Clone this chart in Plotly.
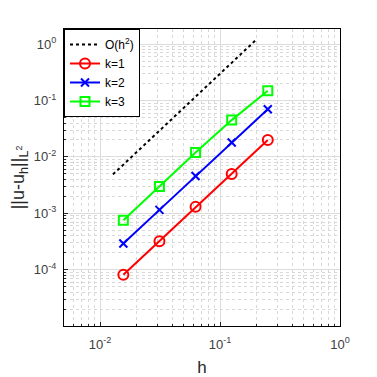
import plotly.graph_objects as go

h = [1/4, 1/8, 1/16, 1/32, 1/64]
err_k1 = [0.020, 0.0050, 0.00130, 0.00032, 0.000081]
err_k2 = [0.070, 0.018, 0.0046, 0.00115, 0.00029]
err_k3 = [0.150, 0.045, 0.0120, 0.0030, 0.00075]
ref_h = [0.0128, 0.2]
ref_err = [0.0049, 1.2]

x_ticks = [0.01, 0.1, 1]
x_labels = ["10<sup>-2</sup>", "10<sup>-1</sup>", "10<sup>0</sup>"]
y_ticks = [1e-4, 1e-3, 1e-2, 1e-1, 1]
y_labels = ["10<sup>-4</sup>", "10<sup>-3</sup>", "10<sup>-2</sup>", "10<sup>-1</sup>", "10<sup>0</sup>"]

# minor grid positions (2..9 within each decade)
x_minor = [m * 10.0 ** e for e in range(-3, 0) for m in range(2, 10)]
y_minor = [m * 10.0 ** e for e in range(-5, 1) for m in range(2, 10)]

fig = go.Figure()
fig.add_trace(go.Scatter(x=ref_h, y=ref_err, mode="lines", name="O(h<sup>2</sup>)",
                         line=dict(color="black", width=2, dash="dot")))
fig.add_trace(go.Scatter(x=h, y=err_k1, mode="lines+markers", name="k=1",
                         line=dict(color="#ff0000", width=2),
                         marker=dict(symbol="circle-open", size=10, color="#ff0000",
                                     line=dict(width=2))))
fig.add_trace(go.Scatter(x=h, y=err_k2, mode="lines+markers", name="k=2",
                         line=dict(color="#0000ff", width=2),
                         marker=dict(symbol="x-thin-open", size=8, color="#0000ff",
                                     line=dict(width=2))))
fig.add_trace(go.Scatter(x=h, y=err_k3, mode="lines+markers", name="k=3",
                         line=dict(color="#00ff00", width=2),
                         marker=dict(symbol="square-open", size=9, color="#00ff00",
                                     line=dict(width=2))))

axis_common = dict(
    type="log", tickmode="array", automargin=False,
    showline=True, linecolor="black", linewidth=1, mirror=True,
    ticks="inside", ticklen=4, tickcolor="#262626",
    showgrid=True, gridcolor="#dcdcdc", gridwidth=1,
    tickfont=dict(size=13, color="#404040"),
    zeroline=False,
)

fig.update_xaxes(axis_common, range=[-2.301, 0], tickvals=x_ticks, ticktext=x_labels,
                 ticklabelstandoff=6,
                 minor=dict(tickmode="array", tickvals=x_minor, showgrid=True,
                            gridcolor="#d8d8d8", griddash="dot", ticks="inside",
                            ticklen=2, tickcolor="#262626"),
                 title=dict(text="h", font=dict(size=17, color="#262626"), standoff=12))
fig.update_yaxes(axis_common, range=[-5, 0.27], tickvals=y_ticks, ticktext=y_labels,
                 ticklabelstandoff=4,
                 minor=dict(tickmode="array", tickvals=y_minor, showgrid=True,
                            gridcolor="#d8d8d8", griddash="dot", ticks="inside",
                            ticklen=2, tickcolor="#262626"),
                 title=dict(text="||u-u<sub>h</sub>||<sub>L<sup>2</sup></sub>",
                            font=dict(size=18, color="#262626"), standoff=6))

# the page body has an 8px margin, so the figure is a bit smaller than the window
fig.update_layout(
    width=369, height=369,
    margin=dict(l=56, r=37, t=21, b=51),
    paper_bgcolor="white", plot_bgcolor="white",
    font=dict(family="Liberation Sans, Arial, sans-serif", color="#262626"),
    legend=dict(x=0, y=1, xanchor="left", yanchor="top",
                bordercolor="black", borderwidth=1, bgcolor="white",
                font=dict(size=12, color="black"), tracegroupgap=0, itemwidth=30),
    showlegend=True,
)

fig.write_html("out.html")
